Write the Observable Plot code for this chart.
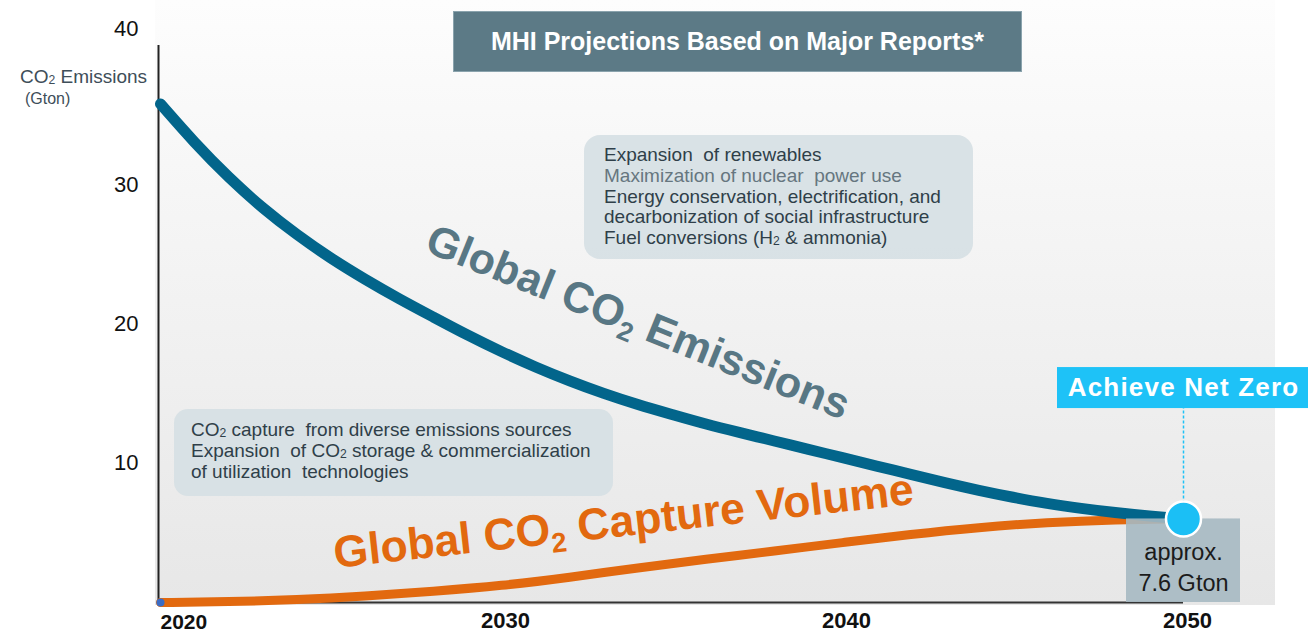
<!DOCTYPE html>
<html>
<head>
<meta charset="utf-8">
<script src="https://cdn.jsdelivr.net/npm/d3@7"></script>
<script src="https://cdn.jsdelivr.net/npm/@observablehq/plot@0.6"></script>
<style>
html, body { margin: 0; padding: 0; background: #ffffff; }
#wrap { position: relative; width: 1312px; height: 632px; overflow: hidden; font-family: "Liberation Sans", Arial, sans-serif; }
#panel { position: absolute; left: 155px; top: 0; width: 1120px; height: 605px;
  background: linear-gradient(to bottom, #fdfdfd 0%, #f3f3f3 45%, #e7e7e7 100%); }
#chart { position: absolute; left: 0; top: 0; }
#title { position: absolute; left: 453px; top: 11px; width: 567px; height: 59px; line-height: 59px;
  background: #5c7a86; border: 1px solid #8aa3ad; color: #ffffff; font-weight: bold; font-size: 25px; text-align: center; }
.note { position: absolute; box-sizing: border-box; border-radius: 16px; background: rgba(214,223,228,0.92);
  color: #2f3f49; font-size: 19px; line-height: 20.8px; white-space: nowrap; }
.note .light { color: #66767f; }
sub { font-size: 0.64em; vertical-align: -0.12em; line-height: 0; }
.ylab { position: absolute; color: #3e4e59; white-space: nowrap; }
</style>
</head>
<body>
<div id="wrap">
  <div id="panel"></div>
  <div id="chart"></div>
  <div id="title">MHI Projections Based on Major Reports*</div>
  <div class="note" style="left:584px;top:135px;width:389px;height:124px;padding:10px 0 0 20px;">
    <div>Expansion&nbsp; of renewables</div>
    <div class="light">Maximization of nuclear&nbsp; power use</div>
    <div>Energy conservation, electrification, and</div>
    <div>decarbonization of social infrastructure</div>
    <div>Fuel conversions (H<sub>2</sub> &amp; ammonia)</div>
  </div>
  <div class="note" style="left:174px;top:409px;width:439px;height:87px;padding:11px 0 0 17px;border-radius:14px;">
    <div>CO<sub>2</sub> capture&nbsp; from diverse emissions sources</div>
    <div>Expansion&nbsp; of CO<sub>2</sub> storage &amp; commercialization</div>
    <div>of utilization&nbsp; technologies</div>
  </div>
  <div class="ylab" style="left:20px;top:66px;font-size:19px;">CO<sub>2</sub> Emissions</div>
  <div class="ylab" style="left:25px;top:90px;font-size:16px;">(Gton)</div>
</div>
<script>
// ---- data ----
const years = [2020, 2021, 2022, 2023, 2024, 2025, 2026, 2027, 2028, 2029, 2030,
  2031, 2032, 2033, 2034, 2035, 2036, 2037, 2038, 2039, 2040,
  2041, 2042, 2043, 2044, 2045, 2046, 2047, 2048, 2049, 2050];
const emissions = [35.8, 33.0, 30.5, 28.3, 26.4, 24.7, 23.2, 21.8, 20.5, 19.2, 18.0,
  16.9, 15.9, 15.0, 14.2, 13.5, 12.8, 12.2, 11.6, 11.0, 10.4,
  9.8, 9.2, 8.6, 8.05, 7.55, 7.1, 6.75, 6.45, 6.2, 6.0];
const captureYears = [2020, 2022, 2024, 2026, 2028, 2030, 2032, 2034, 2036, 2038, 2040, 2042, 2044, 2046, 2048, 2050];
const capture = [0, 0.05, 0.2, 0.45, 0.8, 1.2, 1.8, 2.5, 3.1, 3.7, 4.3, 4.9, 5.4, 5.75, 5.95, 6.0];
const yTicks = [10, 20, 30];
const yTopTick = [40];
const xTicks = [2030, 2040, 2050];
const xFirstTick = [2020];
const netZeroLabel = "Achieve Net Zero";
const netZeroLabelValue = 15.4;
const endNote = "approx.\n7.6 Gton";
const emissionsLabel = { year: 2034.0, value: 20.1, text: "Global CO\u2082 Emissions" };
const captureLabel = { year: 2033.58, value: 5.8, text: "Global CO\u2082 Capture Volume" };

// ---- tables built from arrays ----
const emissionRows = years.map((y, i) => ({ year: y, value: emissions[i] }));
const captureRows = captureYears.map((y, i) => ({ year: y, value: capture[i] }));
const firstYear = years[0];
const lastYear = years[years.length - 1];
const endPoint = { year: lastYear, value: emissions[emissions.length - 1] };
const netZero = { year: lastYear, value: netZeroLabelValue, text: netZeroLabel };

const chart = Plot.plot({
  width: 1312,
  height: 632,
  marginLeft: 160,
  marginRight: 129,
  marginTop: 45,
  marginBottom: 30,
  x: { domain: [firstYear, lastYear], axis: null },
  y: { domain: [0, 40], axis: null },
  style: { background: "transparent", fontFamily: "'Liberation Sans', Arial, sans-serif", overflow: "visible" },
  marks: [
    Plot.ruleY([0], { stroke: "#333333", strokeWidth: 2 }),
    Plot.ruleX([firstYear], { y1: () => 0, y2: () => 40, stroke: "#222222", strokeWidth: 2, dx: -2 }),
    Plot.line(captureRows, { x: "year", y: "value", stroke: "#e2690f", strokeWidth: 9, curve: "basis" }),
    Plot.line(emissionRows, { x: "year", y: "value", stroke: "#02658b", strokeWidth: 11, curve: "basis", strokeLinecap: "round" }),
    Plot.dot([{ year: firstYear, value: 0 }], { x: "year", y: "value", r: 4, fill: "#3b6cc5" }),
    Plot.rect([endPoint], { x1: "year", x2: "year", y1: () => 0, y2: "value", insetLeft: -57, insetRight: -57, fill: "#a6b9c2", fillOpacity: 0.9 }),
    Plot.text([endPoint], { x: "year", y: () => 0, text: () => endNote, lineAnchor: "bottom", dy: -12, lineHeight: 1.28, fontSize: 23.5, fill: "#1b1b1b" }),
    Plot.ruleX([netZero], { x: "year", y1: () => endPoint.value, y2: "value", stroke: "#1ec2f7", strokeWidth: 1.5, strokeDasharray: "3,2" }),
    Plot.rect([netZero], { x1: "year", x2: "year", y1: "value", y2: "value", insetLeft: -126, insetRight: -125, insetTop: -20.5, insetBottom: -20.5, fill: "#1ec2f7" }),
    Plot.text([netZero], { x: "year", y: "value", text: "text", fill: "#ffffff", fontWeight: "bold", fontSize: 26 }),
    Plot.dot([endPoint], { x: "year", y: "value", r: 17.5, fill: "#1bbff5", stroke: "#ffffff", strokeWidth: 2.5 }),
    Plot.text([emissionsLabel], { x: "year", y: "value", text: "text", rotate: 22, fontSize: 43, fontWeight: "bold", fill: "#587784" }),
    Plot.text([captureLabel], { x: "year", y: "value", text: "text", rotate: -6.3, fontSize: 44.5, fontWeight: "bold", fill: "#e2690f" }),
    Plot.text(yTicks, { x: () => firstYear, y: d => d, text: d => String(d), textAnchor: "end", dx: -22, fontSize: 22, fill: "#111111" }),
    Plot.text(yTopTick, { x: () => firstYear, y: d => d, text: d => String(d), textAnchor: "end", dx: -22, dy: -17, fontSize: 22, fill: "#111111" }),
    Plot.text(xTicks, { x: d => d, y: () => 0, text: d => String(d), dx: 4, dy: 18, fontSize: 22, fontWeight: "bold", fill: "#111111" }),
    Plot.text(xFirstTick, { x: d => d, y: () => 0, text: d => String(d), textAnchor: "start", dy: 20, fontSize: 21, fontWeight: "bold", fill: "#111111" })
  ]
});
document.getElementById("chart").appendChild(chart);
const svg = d3.select(chart);
svg.selectAll("text")
  .filter(function () { return this.textContent === netZeroLabel; })
  .attr("letter-spacing", "1.2");
// render the subscript 2 of the big curve labels as a lowered, smaller digit
svg.selectAll("text")
  .filter(function () { return this.textContent.includes("\u2082"); })
  .each(function () {
    const t = d3.select(this);
    const parts = this.textContent.split("\u2082");
    t.text(null);
    t.append("tspan").text(parts[0]);
    t.append("tspan").attr("font-size", "0.62em").attr("dy", "0.32em").text("2");
    t.append("tspan").attr("dy", "-0.2em").text(parts[1]);
  });
</script>
</body>
</html>
